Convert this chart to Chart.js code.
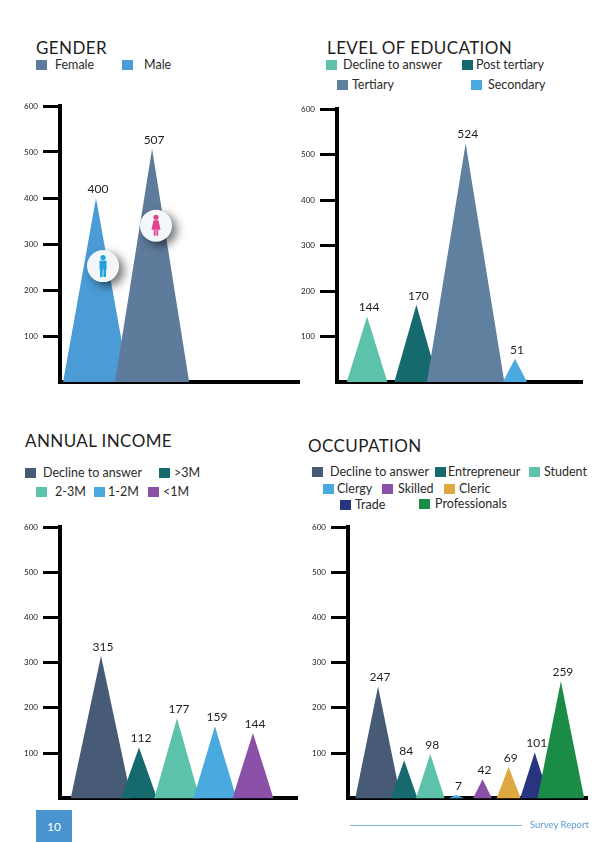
<!DOCTYPE html>
<html>
<head>
<meta charset="utf-8">
<script src="https://cdn.jsdelivr.net/npm/chart.js@4.4.1/dist/chart.umd.min.js"></script>
<style>
  body { margin: 0; background: #fff; font-family: Lato, "Open Sans", sans-serif; color: #222; }
  #page { position: relative; width: 595px; height: 842px; overflow: hidden; }
  .title { position: absolute; font-size: 17px; line-height: 17px; letter-spacing: 0.4px; color: #1e1e1e; white-space: nowrap; }
  .sq { position: absolute; width: 11px; height: 10px; }
  .lbl { position: absolute; height: 16px; line-height: 16px; font-size: 12.5px; white-space: nowrap; color: #2a2a2a; }
  canvas { position: absolute; }
  #pageNo { position: absolute; left: 36px; top: 810px; width: 36px; height: 32px; background: #4a95d0; color: #fff; font-size: 12px; display: flex; align-items: center; justify-content: center; }
  #footLine { position: absolute; left: 350px; top: 825px; width: 172px; height: 1px; background: #86b6df; }
  #footText { position: absolute; left: 530px; top: 819px; font-size: 9.5px; color: #5a9bd5; }
</style>
</head>
<body>
<div id="page">
  <div class="title" style="left:36px;top:39px">GENDER</div>
  <div class="title" style="left:327px;top:39px">LEVEL OF EDUCATION</div>
  <div class="title" style="left:25px;top:432px">ANNUAL INCOME</div>
  <div class="title" style="left:308px;top:437px">OCCUPATION</div>

  <canvas id="gender" width="300" height="296" style="left:0;top:96px"></canvas>
  <canvas id="education" width="300" height="296" style="left:295px;top:96px"></canvas>
  <canvas id="income" width="300" height="292" style="left:0;top:516px"></canvas>
  <canvas id="occupation" width="300" height="292" style="left:295px;top:516px"></canvas>

  <div id="pageNo">10</div>
  <div id="footLine"></div>
  <div id="footText">Survey Report</div>
</div>
<script>
// data
const genderCats = ['Male', 'Female'];
const genderVals = [400, 507];

const eduCats = ['Decline to answer', 'Post tertiary', 'Tertiary', 'Secondary'];
const eduVals = [144, 170, 524, 51];

const incomeCats = ['Decline to answer', '>3M', '2-3M', '1-2M', '<1M'];
const incomeVals = [315, 112, 177, 159, 144];

const occCats = ['Decline to answer', 'Entrepreneur', 'Student', 'Clergy', 'Skilled', 'Cleric', 'Trade', 'Professionals'];
const occVals = [247, 84, 98, 7, 42, 69, 101, 259];

const yTicks = [100, 200, 300, 400, 500, 600];

// colours
const genderColors = ['#4a9bd6', '#5e7b9c'];
const eduColors = ['#5cc2a9', '#166a6e', '#60809f', '#4aaae0'];
const incomeColors = ['#475b76', '#166a6e', '#5cc2a9', '#4aaae0', '#8a4fa6'];
const occColors = ['#475b76', '#166a6e', '#5cc2a9', '#4aaae0', '#8a4fa6', '#e0a840', '#283480', '#1a8c48'];

// legend layout: [category index, square left, text left, row centre]
const genderLegend = [[1, 36, 55, 65], [0, 122, 144, 65]];
const eduLegend = [[0, 326, 343, 65], [1, 462, 476, 65], [2, 337, 352, 85], [3, 471, 488, 85]];
const incomeLegend = [[0, 25, 43, 473], [1, 159, 174, 473], [2, 36, 55, 492], [3, 94, 108, 492], [4, 148, 163, 492]];
const occLegend = [[0, 312, 330, 472], [1, 435, 448, 472], [2, 529, 544, 472],
                   [3, 323, 337, 489], [4, 382, 398, 489], [5, 444, 459, 489],
                   [6, 340, 355, 505], [7, 419, 435, 504]];

function buildLegend(layout, cats, colors) {
  const page = document.getElementById('page');
  layout.forEach(([i, sqLeft, txtLeft, cy]) => {
    const sq = document.createElement('div');
    sq.className = 'sq';
    sq.style.left = sqLeft + 'px';
    sq.style.top = (cy - 5) + 'px';
    sq.style.background = colors[i];
    page.appendChild(sq);
    const t = document.createElement('div');
    t.className = 'lbl';
    t.style.left = txtLeft + 'px';
    t.style.top = (cy - 8) + 'px';
    t.textContent = cats[i];
    page.appendChild(t);
  });
}

function drawPerson(ctx, cx, cy, color, female) {
  ctx.fillStyle = color;
  ctx.beginPath();
  ctx.arc(cx, cy - 8.5, 2.6, 0, Math.PI * 2);
  ctx.fill();
  if (female) {
    ctx.beginPath();
    ctx.moveTo(cx - 2.5, cy - 5.5);
    ctx.lineTo(cx + 2.5, cy - 5.5);
    ctx.lineTo(cx + 4.5, cy + 4);
    ctx.lineTo(cx - 4.5, cy + 4);
    ctx.closePath();
    ctx.fill();
    ctx.fillRect(cx - 2.2, cy + 4, 1.8, 6);
    ctx.fillRect(cx + 0.4, cy + 4, 1.8, 6);
  } else {
    ctx.fillRect(cx - 3.5, cy - 5.5, 7, 9);
    ctx.fillRect(cx - 3, cy + 3, 2.6, 8);
    ctx.fillRect(cx + 0.4, cy + 3, 2.6, 8);
  }
}

// draws each point as a triangle standing on the zero line,
// base half-width grows with sqrt of the value (half = width at 600)
const trianglePlugin = {
  id: 'triangles',
  afterDatasetsDraw(chart, args, opts) {
    const { ctx, scales: { x, y } } = chart;
    const base = y.getPixelForValue(0);
    const ds = chart.data.datasets[0];
    const pts = chart.getDatasetMeta(0).data;
    ctx.save();
    pts.forEach((pt, i) => {
      const d = ds.data[i];
      const hw = Math.max(opts.minHalf, opts.half * Math.sqrt(d.y / 600));
      ctx.beginPath();
      ctx.moveTo(x.getPixelForValue(d.x - hw), base);
      ctx.lineTo(pt.x, pt.y);
      ctx.lineTo(x.getPixelForValue(d.x + hw), base);
      ctx.closePath();
      ctx.fillStyle = opts.colors[i];
      ctx.fill();
    });
    (opts.icons || []).forEach(ic => {
      const d = ds.data[ic.index];
      const cx = x.getPixelForValue(d.x + ic.dx);
      const cy = y.getPixelForValue(d.y * ic.frac);
      ctx.save();
      ctx.shadowColor = 'rgba(0,0,0,0.55)';
      ctx.shadowBlur = 10;
      ctx.shadowOffsetX = 5;
      ctx.shadowOffsetY = 4;
      ctx.fillStyle = '#f3f7f9';
      ctx.beginPath();
      ctx.arc(cx, cy, 16, 0, Math.PI * 2);
      ctx.fill();
      ctx.restore();
      drawPerson(ctx, cx, cy, ic.color, ic.female);
    });
    ctx.fillStyle = '#1e1e1e';
    ctx.font = '12px Lato';
    ctx.textAlign = 'center';
    ctx.textBaseline = 'middle';
    pts.forEach((pt, i) => {
      ctx.fillText(String(ds.data[i].y), pt.x + 2, pt.y - 9);
    });
    ctx.restore();
  }
};

function triangleChart(id, vals, colors, cfg) {
  return new Chart(document.getElementById(id), {
    type: 'scatter',
    data: {
      datasets: [{ data: vals.map((v, i) => ({ x: i, y: v })), pointRadius: 0, pointHoverRadius: 0 }]
    },
    options: {
      responsive: false,
      animation: false,
      events: [],
      layout: { padding: cfg.pad },
      plugins: {
        legend: { display: false },
        tooltip: { enabled: false },
        triangles: { colors: colors, half: cfg.half, minHalf: cfg.minHalf || 0, icons: cfg.icons }
      },
      scales: {
        x: {
          type: 'linear', min: cfg.xmin, max: cfg.xmax, z: 1,
          ticks: { display: false },
          grid: { display: false },
          border: { display: true, color: '#000', width: 4 },
          afterFit(s) { s.height = 0; }
        },
        y: {
          min: 0, max: 600, z: 1,
          afterBuildTicks(s) { s.ticks = yTicks.map(v => ({ value: v })); },
          ticks: { font: { family: 'Lato', size: 8 }, color: '#222', padding: 5 },
          grid: { drawOnChartArea: false, tickLength: 17, tickWidth: 3, tickColor: '#000' },
          border: { color: '#000', width: 4 },
          afterFit(s) { s.width = cfg.yw; }
        }
      }
    },
    plugins: [trianglePlugin]
  });
}

buildLegend(genderLegend, genderCats, genderColors);
buildLegend(eduLegend, eduCats, eduColors);
buildLegend(incomeLegend, incomeCats, incomeColors);
buildLegend(occLegend, occCats, occColors);

triangleChart('gender', genderVals, genderColors, {
  pad: { top: 10, right: 0, bottom: 10, left: 0 }, yw: 60, xmin: -0.643, xmax: 3.64, half: 0.72,
  icons: [
    { index: 0, dx: 0.125, frac: 0.63, color: '#1ea3dc', female: false },
    { index: 1, dx: 0.07, frac: 0.67, color: '#e2418f', female: true }
  ]
});
triangleChart('education', eduVals, eduColors, {
  pad: { top: 13, right: 13, bottom: 10, left: 0 }, yw: 42, xmin: -0.61, xmax: 4.36, half: 0.84
});
triangleChart('income', incomeVals, incomeColors, {
  pad: { top: 11, right: 3, bottom: 9, left: 0 }, yw: 60, xmin: -1.08, xmax: 5.16, half: 1.1
});
triangleChart('occupation', occVals, occColors, {
  pad: { top: 11, right: 8, bottom: 9, left: 0 }, yw: 53, xmin: -1.15, xmax: 8.0, half: 1.36, minHalf: 0.3
});
</script>
</body>
</html>
